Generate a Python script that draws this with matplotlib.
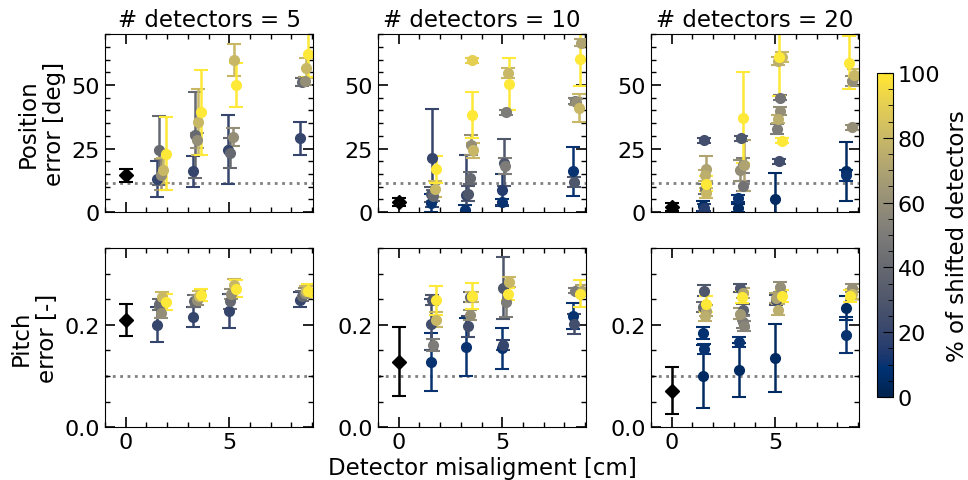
import numpy as np
import matplotlib
matplotlib.use("Agg")
import matplotlib.pyplot as plt
from matplotlib.ticker import MultipleLocator

# (misalignment [cm], error, std, % shifted detectors)
pos_5 = [(1.49, 13.1, 7.1, 20), (1.60, 24.3, 13.5, 40), (1.70, 14.7, 6.0, 60), (1.81, 16.4, 5.0, 80), (1.93, 23.0, 14.3, 100),
         (3.24, 16.0, 6.1, 20), (3.35, 30.3, 17.0, 40), (3.43, 28.3, 3.0, 60), (3.51, 35.3, 13.0, 80), (3.62, 39.2, 16.7, 100),
         (4.93, 24.5, 13.5, 20), (5.05, 23.3, 6.0, 40), (5.16, 29.4, 3.5, 60), (5.24, 59.8, 6.4, 80), (5.32, 49.9, 8.7, 100),
         (8.40, 29.0, 6.5, 20), (8.53, 51.2, 1.5, 40), (8.64, 51.5, 1.5, 60), (8.72, 56.8, 4.0, 80), (8.80, 62.3, 9.0, 100)]
pos_10 = [(1.54, 3.6, 3.5, 10), (1.58, 7.0, 3.0, 30), (1.59, 21.3, 19.3, 20), (1.65, 6.5, 2.0, 40), (1.75, 9.1, 3.0, 80), (1.81, 16.8, 5.3, 100),
          (3.22, 0.8, 2.0, 10), (3.26, 6.9, 15.7, 20), (3.37, 7.3, 3.0, 30), (3.43, 13.4, 2.5, 40), (3.48, 26.3, 4.0, 60),
          (3.59, 24.3, 3.0, 80), (3.53, 59.8, 1.0, 90), (3.56, 38.2, 8.9, 100),
          (4.99, 3.8, 1.5, 10), (4.99, 8.7, 6.1, 15), (5.10, 19.4, 9.3, 30), (5.15, 18.1, 3.0, 50), (5.18, 39.3, 1.0, 50),
          (5.29, 54.8, 2.0, 80), (5.31, 50.4, 10.1, 100),
          (8.42, 16.0, 9.6, 10), (8.47, 11.8, 2.0, 30), (8.53, 43.8, 1.2, 50), (8.58, 43.2, 1.2, 60), (8.82, 66.7, 1.5, 70),
          (8.69, 40.9, 5.5, 80), (8.74, 60.3, 10.9, 100)]
pos_20 = [(1.49, 2.5, 2.0, 5), (1.57, 1.8, 1.5, 15), (1.57, 28.3, 1.0, 25), (1.60, 9.1, 2.0, 45), (1.65, 17.1, 5.0, 70),
          (1.63, 14.4, 2.0, 75), (1.66, 7.4, 2.0, 80), (1.68, 11.1, 3.0, 100),
          (3.22, 1.5, 1.5, 5), (3.22, 5.4, 1.5, 10), (3.35, 29.0, 1.0, 30), (3.46, 10.2, 2.0, 45), (3.46, 18.4, 3.0, 50),
          (3.30, 16.4, 4.0, 60), (3.51, 18.4, 10.0, 70), (3.43, 37.2, 18.0, 100),
          (4.97, 5.2, 10.0, 5), (5.18, 20.0, 1.0, 25), (5.24, 44.9, 1.0, 45), (5.08, 32.7, 2.0, 50), (5.24, 39.8, 1.5, 60),
          (5.13, 36.5, 1.5, 75), (5.13, 59.4, 1.5, 75), (5.32, 61.0, 2.0, 80), (5.34, 28.1, 1.0, 100), (5.18, 61.1, 15.6, 100),
          (8.41, 16.0, 11.5, 5), (8.44, 14.4, 2.0, 10), (8.69, 33.3, 1.0, 60), (8.69, 51.7, 2.0, 60), (8.80, 54.1, 2.0, 80),
          (8.57, 58.8, 10.5, 100)]

pitch_5 = [(1.52, 0.200, 0.034, 20), (1.60, 0.240, 0.010, 40), (1.70, 0.223, 0.010, 60), (1.76, 0.254, 0.010, 80), (1.93, 0.245, 0.015, 100),
           (3.24, 0.215, 0.020, 20), (3.32, 0.246, 0.012, 40), (3.43, 0.249, 0.010, 60), (3.54, 0.256, 0.010, 80), (3.62, 0.259, 0.012, 100),
           (4.97, 0.227, 0.033, 20), (5.05, 0.246, 0.015, 40), (5.10, 0.261, 0.010, 60), (5.21, 0.277, 0.012, 80), (5.32, 0.271, 0.016, 100),
           (8.40, 0.249, 0.015, 20), (8.50, 0.257, 0.010, 40), (8.64, 0.262, 0.010, 60), (8.69, 0.266, 0.010, 80), (8.80, 0.267, 0.012, 100)]
pitch_10 = [(1.54, 0.127, 0.057, 10), (1.54, 0.201, 0.050, 25), (1.62, 0.248, 0.010, 30), (1.65, 0.160, 0.012, 50),
            (1.78, 0.210, 0.015, 80), (1.81, 0.248, 0.028, 100),
            (3.27, 0.157, 0.057, 10), (3.37, 0.197, 0.020, 25), (3.43, 0.254, 0.010, 40), (3.43, 0.220, 0.010, 60),
            (3.54, 0.254, 0.010, 80), (3.56, 0.256, 0.025, 100),
            (4.99, 0.154, 0.040, 10), (5.05, 0.160, 0.010, 20), (5.05, 0.272, 0.060, 30), (5.18, 0.245, 0.030, 50),
            (5.34, 0.284, 0.010, 80), (5.29, 0.261, 0.012, 100),
            (8.42, 0.217, 0.025, 10), (8.47, 0.202, 0.020, 25), (8.50, 0.267, 0.005, 50), (8.85, 0.267, 0.010, 70),
            (8.74, 0.261, 0.026, 100)]
pitch_20 = [(1.52, 0.099, 0.061, 5), (1.52, 0.184, 0.012, 8), (1.57, 0.153, 0.010, 10), (1.57, 0.267, 0.010, 30),
            (1.49, 0.235, 0.010, 40), (1.65, 0.228, 0.010, 70), (1.62, 0.217, 0.010, 75), (1.68, 0.241, 0.015, 100),
            (3.24, 0.112, 0.053, 5), (3.27, 0.166, 0.010, 10), (3.30, 0.272, 0.008, 30), (3.43, 0.230, 0.010, 35),
            (3.46, 0.206, 0.012, 50), (3.51, 0.197, 0.010, 55), (3.30, 0.222, 0.010, 65), (3.46, 0.262, 0.010, 70),
            (3.40, 0.254, 0.012, 100),
            (4.97, 0.135, 0.066, 5), (5.05, 0.248, 0.010, 25), (5.21, 0.274, 0.010, 60), (5.05, 0.253, 0.010, 70),
            (5.13, 0.230, 0.010, 75), (5.34, 0.256, 0.012, 100),
            (8.41, 0.233, 0.023, 5), (8.41, 0.180, 0.035, 10), (8.69, 0.272, 0.008, 60), (8.69, 0.261, 0.010, 80),
            (8.60, 0.256, 0.012, 100)]

# reference (no misalignment): value, std
ref_pos = [(14.4, 2.6), (4.0, 1.5), (2.0, 1.5)]
ref_pitch = [(0.210, 0.031), (0.128, 0.068), (0.071, 0.046)]
n_detectors = [5, 10, 20]
pos_limit = 11.3
pitch_limit = 0.1

cmap = plt.get_cmap("cividis")
norm = matplotlib.colors.Normalize(0, 100)

plt.rcParams["font.size"] = 16
fig = plt.figure(figsize=(9.68, 4.81), dpi=100)
lefts = [0.1085, 0.3905, 0.6725]
top_data = [pos_5, pos_10, pos_20]
bot_data = [pitch_5, pitch_10, pitch_20]

for i in range(3):
    ax_top = fig.add_axes([lefts[i], 0.557, 0.215, 0.370])
    ax_bot = fig.add_axes([lefts[i], 0.110, 0.215, 0.372])
    for ax, data, ref, lim in [(ax_top, top_data[i], ref_pos[i], pos_limit),
                               (ax_bot, bot_data[i], ref_pitch[i], pitch_limit)]:
        ax.axhline(lim, color="gray", ls=":", lw=2, zorder=0)
        ax.errorbar(0, ref[0], yerr=ref[1], fmt="D", color="black", ms=7,
                    capsize=5, elinewidth=1.8, capthick=1.5)
        for x, y, e, p in sorted(data, key=lambda r: r[3]):
            ax.errorbar(x, y, yerr=e, fmt="o", color=cmap(norm(p)), ms=7,
                        capsize=5, elinewidth=1.8, capthick=1.5)
        ax.set_xlim(-1.0, 9.05)
        ax.xaxis.set_major_locator(MultipleLocator(5))
        ax.xaxis.set_minor_locator(MultipleLocator(1))
        ax.tick_params(which="both", direction="in", top=True, right=True)
        ax.tick_params(which="major", length=7, width=1.2)
        ax.tick_params(which="minor", length=3.5, width=1)
    ax_top.set_ylim(0, 70)
    ax_top.yaxis.set_major_locator(MultipleLocator(25))
    ax_top.yaxis.set_minor_locator(MultipleLocator(5))
    ax_top.set_xticklabels([])
    ax_top.set_title("# detectors = %d" % n_detectors[i], fontsize=16.5)
    ax_bot.set_ylim(0, 0.35)
    ax_bot.yaxis.set_major_locator(MultipleLocator(0.2))
    ax_bot.yaxis.set_minor_locator(MultipleLocator(0.05))
    if i == 0:
        ax_top.set_ylabel("Position\nerror [deg]", fontsize=16.5)
        ax_bot.set_ylabel("Pitch\nerror [-]", fontsize=16.5)

fig.text(0.498, 0.027, "Detector misaligment [cm]", ha="center", va="center", fontsize=16.5)

cax = fig.add_axes([0.906, 0.1726, 0.0165, 0.6736])
sm = matplotlib.cm.ScalarMappable(norm=norm, cmap=cmap)
cbar = fig.colorbar(sm, cax=cax)
cbar.set_label("% of shifted detectors", fontsize=16.5, labelpad=4)
cbar.set_ticks([0, 20, 40, 60, 80, 100])
cax.yaxis.set_minor_locator(MultipleLocator(5))
cax.tick_params(which="both", direction="in")
cax.tick_params(which="major", length=7)
cax.tick_params(which="minor", length=3.5)

plt.savefig("out.png", dpi=100)
